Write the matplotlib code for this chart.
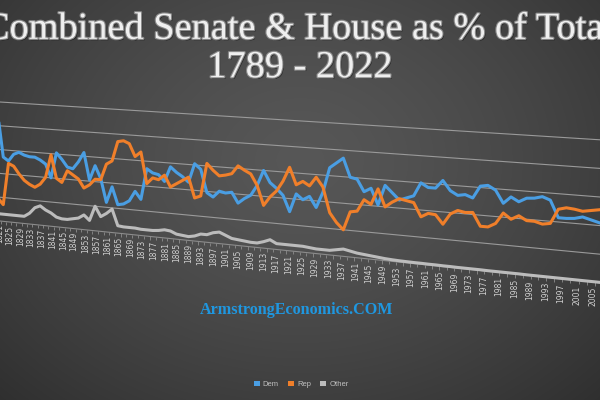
import numpy as np
import matplotlib
matplotlib.use('Agg')
import matplotlib.pyplot as plt
import matplotlib.transforms as mtransforms
import matplotlib.patheffects as pe
from matplotlib.patches import Patch

# congress start years (only the part that is visible in the picture)
years = list(range(1819, 2007, 2))
dem = [88, 88, 54, 51, 57, 59, 57, 56, 56, 54, 51, 40, 61, 56, 50, 49, 55, 63, 41, 53,
       43, 24, 37, 23, 24, 27, 35, 29, 54, 51, 50, 45, 57, 53, 50, 46, 61, 57, 39, 36,
       41, 40, 41, 33, 37, 40, 48, 60, 51, 47, 42, 30, 44, 40, 43, 35, 47, 66, 70, 74,
       60, 59, 50, 53, 41, 56, 51, 46, 48, 50, 60, 57, 57, 63, 56, 53, 54, 52, 61, 62,
       59, 50, 55, 52, 55, 55.5, 57, 55, 43, 43, 43.5, 45, 43.5, 42]
rep = [20, 19, 14, 49, 47, 41, 36, 33, 31, 34, 40, 59, 40, 37, 47, 44, 41, 34, 37, 42,
       42, 55, 58, 74, 75, 73, 63, 67, 42, 47, 46, 50, 41, 44, 47, 50, 34, 36, 62, 57,
       53, 54, 55.5, 62, 59, 56.5, 48, 33, 40, 45, 53, 64, 51, 54, 51, 58, 51, 32, 25, 20,
       34, 35, 44, 41, 53, 40, 44, 47, 46, 45, 35, 38, 37.5, 31, 39, 42, 41, 41.5, 32, 32,
       35, 43, 39, 42, 39, 39, 37.5, 38.5, 49, 50.5, 50, 49, 50, 51]
other = [6, 6, 6, 6, 6, 6, 6, 9, 14, 16, 13, 11, 8, 7, 7, 8, 9, 12, 8, 20,
         12, 15, 19, 6, 5.5, 5.5, 5.5, 5, 5, 5, 5.5, 6.5, 6, 4, 3.5, 3, 4, 6, 6, 8,
         9, 7, 5, 4.5, 4, 3.5, 3.5, 5, 7, 4.5, 4.5, 4.5, 4.5, 4.5, 4, 3.5, 3.5, 3.5, 4.5, 5.5,
         4.5, 3.5, 3, 2.5, 2, 1.5, 1.2, 1, 0.9, 0.8, 0.8, 0.7, 0.7, 0.6, 0.6, 0.5, 0.5, 0.5, 0.5, 0.4,
         0.4, 0.4, 0.4, 0.4, 0.3, 0.3, 0.3, 0.3, 0.3, 0.3, 0.3, 0.3, 0.3, 0.3]
series = ['Dem', 'Rep', 'Other']
colors = ['#4a9ee3', '#f07f2a', '#bcbcbc']
label_years = [y for y in years if (y - 1789) % 4 == 0]
grid_vals = [20, 40, 60, 80, 100]

W, H = 600, 400
# the excel chart is tilted in 3D: years get squeezed toward the left edge
PX_A, PX_B, PX_C = 467.8, 8.47, -0.2049
AX_Y0, AX_DY = 221.0, 0.103     # pixel row of the 0% line
HT_0, HT_D = 119.0, 0.04        # pixel height of 0..100%


class Tilt(mtransforms.Transform):
    input_dims = output_dims = 2

    def transform_non_affine(self, values):
        uv = np.asarray(values, dtype=float).reshape(-1, 2)
        u, v = uv[:, 0], uv[:, 1]
        px = (PX_A * u + PX_B) / (PX_C * u + 1)
        py = AX_Y0 + AX_DY * px - v * (HT_0 + HT_D * px)
        return np.column_stack([px / W, 1 - py / H])


fig = plt.figure(figsize=(6, 4), dpi=100)

# dark radial background
bg = fig.add_axes([0, 0, 1, 1])
bg.axis('off')
yy, xx = np.mgrid[0:H, 0:W]
r = np.hypot((xx - 300) / 420, (yy - 160) / 330)
shade = 0.34 - 0.15 * np.clip(r, 0, 1.3) ** 1.4
bg.imshow(np.dstack([shade] * 3), aspect='auto', extent=(0, 1, 0, 1))

ax = fig.add_axes([0, 0, 1, 1])
ax.axis('off')
ax.set_autoscale_on(False)
ax.set_xlim(1825, 2005)
ax.set_ylim(0, 100)
tr = ax.transScale + ax.transLimits + Tilt() + fig.transFigure

x0, x1 = years[0] - 1, years[-1] + 1
for g in grid_vals:
    ax.plot([x0, x1], [g, g], color='#9a9a9a', lw=0.8, transform=tr, clip_on=False)
ax.plot([x0, x1], [0, 0], color='#8c8c8c', lw=0.8, transform=tr, clip_on=False)
ax.vlines([y - 1 for y in years], 0, -2.5, color='#8c8c8c', lw=0.6,
          transform=tr, clip_on=False)

for y in label_years:
    s = (y - 1825) / 180
    dx = 1.5 - 7.5 * s * s
    ax.text(y, -3, str(y), rotation=90, ha='center', va='top', fontsize=5.5,
            color='#d0d0d0', clip_on=False,
            transform=mtransforms.offset_copy(tr, fig=fig, x=dx, y=0, units='dots'))

for vals, c in zip([dem, rep, other], colors):
    ax.plot(years, vals, color=c, lw=2.2, transform=tr, clip_on=False,
            solid_joinstyle='round')

title_fx = [pe.withSimplePatchShadow(offset=(1, -1), shadow_rgbFace='black', alpha=0.5),
            pe.withStroke(linewidth=1.6, foreground='#8a8a8a')]
fig.text(0.5, 0.926, 'Combined Senate & House as % of Total', ha='center', va='center',
         fontsize=27.6, family='Liberation Serif', color='#efefef', path_effects=title_fx)
fig.text(0.5, 0.83, '1789 - 2022', ha='center', va='center',
         fontsize=27.6, family='Liberation Serif', color='#efefef', path_effects=title_fx)

fig.text(0.495, 0.225, 'ArmstrongEconomics.COM', ha='center', va='center',
         fontsize=11.6, fontweight='bold', family='Liberation Serif', color='#1f97e0')

fig.legend(handles=[Patch(facecolor=c) for c in colors], labels=series,
           loc='center', bbox_to_anchor=(0.502, 0.039), ncol=3, frameon=False,
           handlelength=0.8, handleheight=0.8, handletextpad=0.4, columnspacing=1.2,
           labelcolor='#bfbfbf', prop={'family': 'Liberation Sans', 'size': 5.5})

fig.savefig('out.png', dpi=100)
